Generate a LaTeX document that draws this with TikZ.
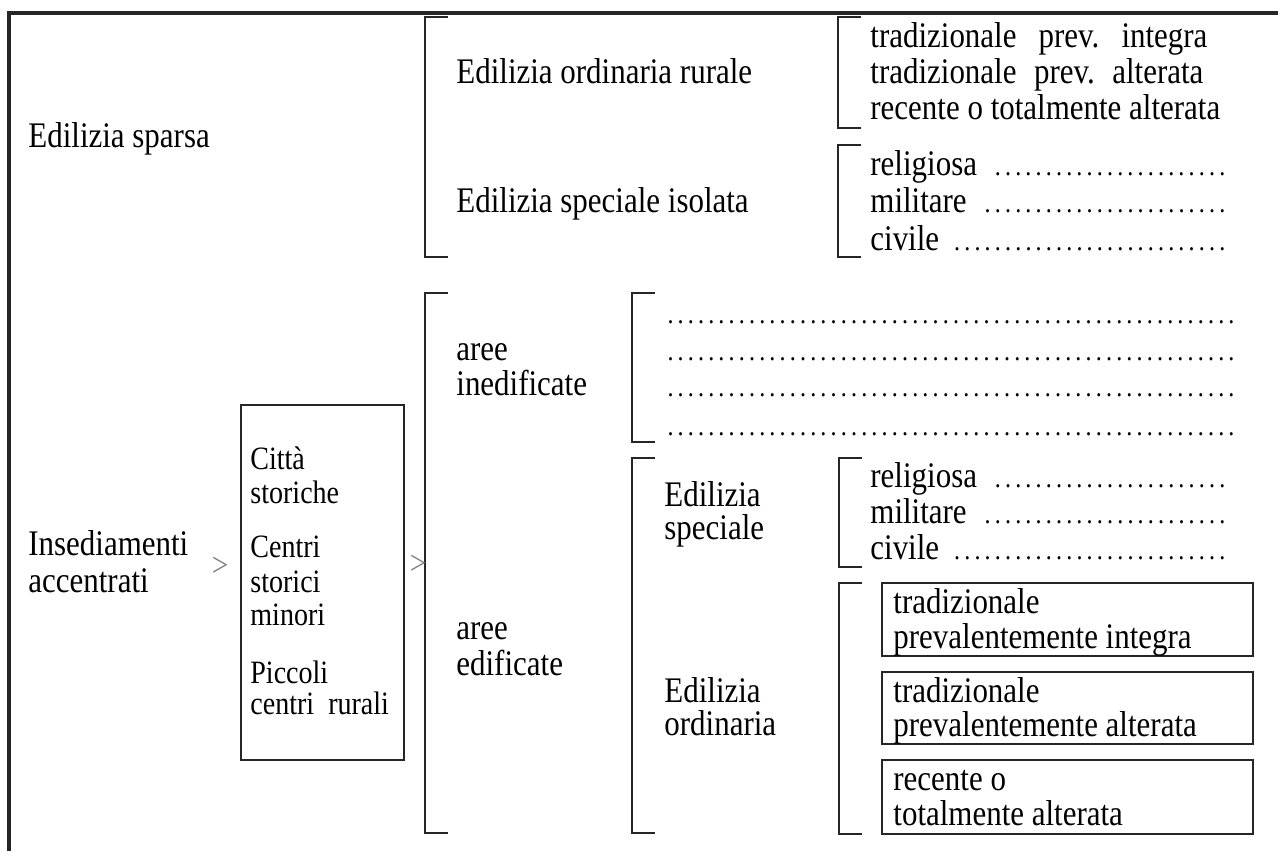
\documentclass[tikz,border=0pt]{standalone}
\usepackage{fontspec}
\setmainfont{Liberation Serif}[FakeStretch=0.86]
\usepackage{xcolor}
\usepackage{tikz}
\usetikzlibrary{positioning}

\newcommand{\dotrun}{\leaders\hbox to 5.1pt{\hss\fontsize{14}{14}\selectfont.\hss}\hfill}

\begin{document}
\begin{tikzpicture}[x=0.5pt, y=-0.5pt,
    lbl/.style={anchor=base west, inner sep=0pt, font=\fontsize{18}{18.5}\selectfont},
    small/.style={lbl, font=\fontsize{16.3}{17}\selectfont},
    brak/.style={line width=1.3pt, black!85},
    frame/.style={line width=1.6pt, black!85},
    tip/.style={inner sep=0pt, text=gray, font=\fontsize{17}{17}\selectfont}]
  \useasboundingbox (0,0) rectangle (1278,851);
  % ---------- FRAME ----------
  \coordinate (F1) at (9,851);
  \coordinate (F2) at (9,13);
  \coordinate (F3) at (1278,13);
  \draw[frame] (F1) -- (F2) -- (F3);
  % ---------- BRACKETS ----------
  \foreach \x/\t/\b in {425/17/257, 838/17/128, 838/145/257, 425/293/833,
                        632/293/442, 632/458/833, 839/458/567, 839/583/834}
    \draw[brak] (\x+23,\t) -- (\x,\t) -- (\x,\b) -- (\x+23,\b);
  % ---------- EDILIZIA SPARSA ----------
  \node[lbl] (sparsa) at (28,147) {Edilizia sparsa};
  \node[lbl] (rurale) at (456,83) {Edilizia ordinaria rurale};
  \node[lbl] (isolata) at (456,212) {Edilizia speciale isolata};
  \node[lbl] (rur-1) at (870,47) {\hbox to 168.5pt{tradizionale\hfill prev.\hfill integra}};
  \node[lbl] (rur-2) at (870,83) {\hbox to 166.5pt{tradizionale\hfill prev.\hfill alterata}};
  \node[lbl] (rur-3) at (870,119) {recente o totalmente alterata};
  \foreach \w/\y [count=\i] in {religiosa/175, militare/212, civile/250}
    \node[lbl] (isol-\i) at (870,\y) {\hbox to 183pt{\w\ \dotrun}};
  % ---------- INSEDIAMENTI ACCENTRATI ----------
  \node[lbl] (ins-1) at (28,555) {Insediamenti};
  \node[lbl] (ins-2) at (28,592) {accentrati};
  \node[tip] (gt-1) at (220,567) {>};
  \coordinate (C1) at (241,405);
  \coordinate (C2) at (404,760);
  \draw[brak] (C1) rectangle (C2);
  \foreach \w/\y [count=\i] in {Città/469, storiche/503, Centri/557, storici/592,
                                minori/625, Piccoli/683, centri\ \ rurali/714}
    \node[small] (city-\i) at (250,\y) {\w};
  \node[tip] (gt-2) at (418,565) {>};
  % ---------- AREE ----------
  \node[lbl] (ined-1) at (456,360) {aree};
  \node[lbl] (ined-2) at (456,395) {inedificate};
  \node[lbl] (edif-1) at (456,639) {aree};
  \node[lbl] (edif-2) at (456,675) {edificate};
  \foreach \y [count=\i] in {323,360,396,435}
    \node[lbl] (vuoto-\i) at (665,\y) {\hbox to 288pt{\dotrun}};
  % ---------- EDILIZIA SPECIALE ----------
  \node[lbl] (spec-1) at (664,506) {Edilizia};
  \node[lbl] (spec-2) at (664,539) {speciale};
  \foreach \w/\y [count=\i] in {religiosa/487, militare/523, civile/559}
    \node[lbl] (sp-\i) at (870,\y) {\hbox to 183pt{\w\ \dotrun}};
  % ---------- EDILIZIA ORDINARIA ----------
  \node[lbl] (ord-1) at (664,702) {Edilizia};
  \node[lbl] (ord-2) at (664,735) {ordinaria};
  \foreach \t/\b in {583/656, 672/744, 760/834}
    \draw[brak] (882,\t) rectangle (1253,\b);
  \node[lbl] (box-1a) at (893,613) {tradizionale};
  \node[lbl] (box-1b) at (893,648) {prevalentemente integra};
  \node[lbl] (box-2a) at (893,702) {tradizionale};
  \node[lbl] (box-2b) at (893,736) {prevalentemente alterata};
  \node[lbl] (box-3a) at (893,790) {recente o};
  \node[lbl] (box-3b) at (893,825) {totalmente alterata};
\end{tikzpicture}
\end{document}
